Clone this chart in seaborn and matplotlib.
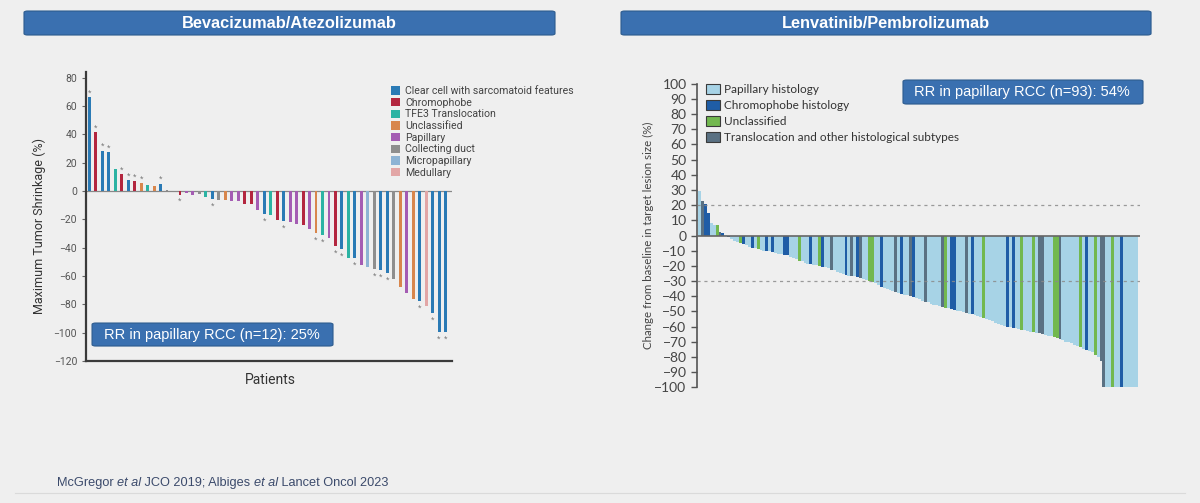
import numpy as np
import pandas as pd
import seaborn as sns
import matplotlib.pyplot as plt
from matplotlib.patches import FancyBboxPatch, Patch
from matplotlib.lines import Line2D
from matplotlib.text import Annotation

bg = "#efefef"
box_blue = "#3a70b0"

# ---- left panel data (McGregor JCO 2019, bev/atezo) ----
left_labels = ["Clear cell with sarcomatoid features", "Chromophobe", "TFE3 Translocation",
               "Unclassified", "Papillary", "Collecting duct", "Micropapillary", "Medullary"]
left_codes = ["CC", "CH", "TF", "UN", "PA", "CD", "MP", "ME"]
left_colors = ["#2a7ab5", "#b3263f", "#2cb3a3", "#d8864c", "#a45cb3", "#8e8e8e", "#8db3d4", "#e2a6a6"]

left_change = [66, 41.5, 28.5, 27.5, 15.5, 12, 7.5, 7, 5.5, 4,
               3.5, 5, 1, 0, -2.5, -1.5, -2.5, -2, -4.5, -5.5,
               -6.5, -6.5, -7, -7, -9.5, -9.5, -13.5, -16, -17, -20.5,
               -21, -22, -23, -24, -26.5, -30, -31, -33, -39, -41,
               -47, -47.5, -52, -53.5, -55, -56, -58, -62, -68, -72,
               -76, -77.5, -81, -86, -99.5, -99.5]
left_hist = ["CC", "CH", "CC", "CC", "TF", "CH", "CC", "CH", "UN", "TF",
             "UN", "CC", "CD", "CD", "CH", "PA", "PA", "CD", "TF", "CC",
             "CD", "UN", "PA", "PA", "CH", "CH", "PA", "CC", "TF", "CH",
             "CC", "PA", "PA", "CH", "PA", "UN", "TF", "PA", "CH", "CC",
             "TF", "CC", "PA", "MP", "CD", "CC", "CC", "CD", "UN", "PA",
             "UN", "CC", "ME", "CC", "CC", "CC"]
left_stars = [0, 1, 2, 3, 5, 6, 7, 8, 11, 14, 19, 27, 30, 35, 36, 38, 39, 41,
              44, 45, 46, 51, 53, 54, 55]

# ---- right panel data (Albiges Lancet Oncol 2023, lenva/pembro) ----
right_labels = ["Papillary histology", "Chromophobe histology", "Unclassified",
                "Translocation and other histological subtypes"]
right_codes = ["P", "C", "U", "T"]
right_colors = ["#a7d3e6", "#1f5da6", "#72b84f", "#5a7183"]

right_change = [29, 23, 21, 15, 8, 7, 7, 2, 1.5, 0.5,
                -1, -2, -3.5, -4.5, -5, -5.5, -6.5, -7.5, -8, -8.5,
                -9, -9.5, -10, -10.5, -10.5, -11, -11.5, -12, -12.5, -13,
                -13, -14, -15, -15.5, -16.5, -17, -18, -18.5, -19, -19.5,
                -19.5, -20, -20.5, -21, -21.5, -22.5, -23, -24, -25, -25.5,
                -26, -26.5, -26.5, -27, -27.5, -28, -28.5, -29, -30, -30.5,
                -31.5, -32.5, -34, -34.5, -35, -36, -36.5, -37, -38, -38.5,
                -39, -39.5, -40, -40.5, -41, -42, -43, -43.5, -44, -45,
                -45.5, -46, -46.5, -47, -47.5, -48, -48.5, -49, -49.5, -50,
                -50.5, -51, -51.5, -52, -52.5, -53, -54, -54.5, -55, -56,
                -56.5, -57.5, -58, -59, -59.5, -60, -60.5, -61, -61, -61.5,
                -62, -62.5, -63, -63.5, -63.5, -64, -64.5, -65, -65.5, -66,
                -66.5, -67, -67.5, -68, -69, -70, -70.5, -71, -72, -73,
                -73.5, -74.5, -75.5, -76, -77, -78.5, -80, -82.5, -100, -100,
                -100, -100, -100, -100, -100, -100, -100, -100, -100, -100]
right_hist = list("PTCCPPUTCP" "CPPPUCPPCP" "UPPCPCPPPC" "CPPPUPPPCP" "PUCPPTPPPP"
                  "CPTPCTPPUU" "PPCPPPPTPC" "PPTCPPPTPP" "PPPTUPCCPP" "PTPCPPPUPP"
                  "PPPPPCPCPP" "UPPPUPTTPP" "PUUTPPPPPP" "UPCPPUPTTP" "PUPPCPPPPP")

plt.rcParams["font.family"] = ["Liberation Sans", "DejaVu Sans"]

fig = plt.figure(figsize=(12, 5.03), dpi=100, facecolor=bg)

# banners
for x0, w, label in [(0.02, 0.4425, "Bevacizumab/Atezolizumab"),
                     (0.5175, 0.4417, "Lenvatinib/Pembrolizumab")]:
    fig.add_artist(FancyBboxPatch((x0, 0.9304), w, 0.0477,
                                  boxstyle="round,pad=0,rounding_size=0.003",
                                  transform=fig.transFigure, fc=box_blue, ec="#2c5b8e", lw=0.8))
    fig.text(x0 + w / 2, 0.9304 + 0.0477 / 2, label, ha="center", va="center",
             color="white", fontsize=11.8, fontweight="bold")

# ---------- left chart ----------
dfL = pd.DataFrame({"patient": range(len(left_change)), "change": left_change,
                    "histology": [left_labels[left_codes.index(c)] for c in left_hist]})
axL = fig.add_axes([0.0717, 0.2823, 0.305, 0.5746], facecolor=bg)
sns.barplot(data=dfL, x="patient", y="change", hue="histology", hue_order=left_labels,
            palette=dict(zip(left_labels, left_colors)), dodge=False, width=0.45,
            errorbar=None, legend=False, saturation=1, ax=axL)
axL.set_xlim(-0.5, 56)
axL.set_ylim(-120, 84)
axL.set_yticks(range(-120, 81, 20))
axL.set_xticks([])
axL.axhline(0, color="#888888", lw=0.9, zorder=0.5)
for s in ["top", "right"]:
    axL.spines[s].set_visible(False)
for s in ["left", "bottom"]:
    axL.spines[s].set_color("#3a3a3a")
    axL.spines[s].set_linewidth(1.6)
axL.tick_params(axis="y", length=3, width=0.8, color="#666", labelsize=7.5, labelcolor="#555")
for t in axL.get_yticklabels():
    t.set_family("Roboto")
for i in left_stars:
    v = left_change[i]
    axL.text(i, v + 3 if v > 0 else v - 5, "*", ha="center", va="center",
             fontsize=6.5, color="#777777")
axL.set_ylabel("Maximum Tumor Shrinkage (%)", fontsize=9, color="#333", family="Roboto")
axL.yaxis.set_label_coords(-0.11, 0.467)
axL.set_xlabel("Patients", fontsize=10, color="#333", family="Roboto")
axL.xaxis.set_label_coords(0.503, -0.04)

hL = [Patch(fc=c, ec="none") for c in left_colors]
axL.legend(hL, left_labels, loc="upper left", bbox_to_anchor=(391 / 1200, 1 - 86 / 503),
           bbox_transform=fig.transFigure, frameon=False, prop={"family": "Roboto", "size": 7.6},
           labelcolor="#444", handlelength=0.85, handleheight=0.85, handletextpad=0.5,
           labelspacing=0.16, borderaxespad=0, borderpad=0)

fig.add_artist(FancyBboxPatch((0.0767, 0.3121), 0.2008, 0.0457,
                              boxstyle="round,pad=0,rounding_size=0.003",
                              transform=fig.transFigure, fc=box_blue, ec="#2c5b8e", lw=0.8))
fig.text(0.0867, 0.3121 + 0.0457 / 2, "RR in papillary RCC (n=12): 25%", ha="left",
         va="center", color="white", fontsize=10.5)

# ---------- right chart ----------
dfR = pd.DataFrame({"patient": range(len(right_change)), "change": right_change,
                    "histology": [right_labels[right_codes.index(c)] for c in right_hist]})
axR = fig.add_axes([0.5808, 0.2286, 0.3692, 0.6064], facecolor=bg)
sns.barplot(data=dfR, x="patient", y="change", hue="histology", hue_order=right_labels,
            palette=dict(zip(right_labels, right_colors)), dodge=False, width=1.0,
            errorbar=None, legend=False, saturation=1, linewidth=0, ax=axR)
axR.set_xlim(-0.85, 150.3)
axR.set_ylim(-100.5, 100.5)
axR.set_yticks(range(-100, 101, 10))
axR.set_xticks([])
axR.set_xlabel("")
for s in ["top", "right", "bottom"]:
    axR.spines[s].set_visible(False)
axR.spines["left"].set_color("#555")
axR.spines["left"].set_linewidth(1.2)
axR.spines["left"].set_bounds(-100, 100)
axR.axhline(0, color="#666666", lw=1.2, zorder=3)
for yv in [20, -30]:
    axR.axhline(yv, color="#8a8a8a", lw=0.9, ls=(0, (2.5, 3)), zorder=3, alpha=0.85)
axR.tick_params(axis="y", length=4, width=1, color="#555", labelsize=10, labelcolor="#444")
for t in axR.get_yticklabels():
    t.set_family("Lato")
axR.set_ylabel("Change from baseline in target lesion size (%)", fontsize=8.3,
               color="#444", family="Lato")
axR.yaxis.set_label_coords(-0.097, 0.5)

hR = [Patch(fc=c, ec="#3a3a3a", lw=0.8) for c in right_colors]
axR.legend(hR, right_labels, loc="upper left", bbox_to_anchor=(706 / 1200, 1 - 84 / 503),
           bbox_transform=fig.transFigure, frameon=False, prop={"family": "Lato", "size": 8.5},
           labelcolor="#333", handlelength=1.2, handleheight=0.9, handletextpad=0.3,
           labelspacing=0.42, borderaxespad=0, borderpad=0)

fig.add_artist(FancyBboxPatch((0.7525, 0.7932), 0.2, 0.0477,
                              boxstyle="round,pad=0,rounding_size=0.003",
                              transform=fig.transFigure, fc=box_blue, ec="#2c5b8e", lw=0.8))
fig.text(0.7617, 0.7932 + 0.0477 / 2, "RR in papillary RCC (n=93): 54%", ha="left",
         va="center", color="white", fontsize=10.5)

# ---------- footer ----------
pieces = [("McGregor ", "normal"), ("et al", "italic"), (" JCO 2019; Albiges ", "normal"),
          ("et al", "italic"), (" Lancet Oncol 2023", "normal")]
prev = fig.text(57 / 1200, 0.028, pieces[0][0], fontsize=9.2, color="#3b4a6b", va="bottom")
for txt, style in pieces[1:]:
    a = Annotation(txt, xy=(1, 0), xycoords=prev, va="bottom", ha="left",
                   fontsize=9.2, color="#3b4a6b", style=style)
    fig.add_artist(a)
    prev = a
fig.add_artist(Line2D([0.0125, 0.9875], [0.0199, 0.0199], transform=fig.transFigure,
                      color="#dadada", lw=0.8))

fig.savefig("out.png", dpi=100, facecolor=bg)
